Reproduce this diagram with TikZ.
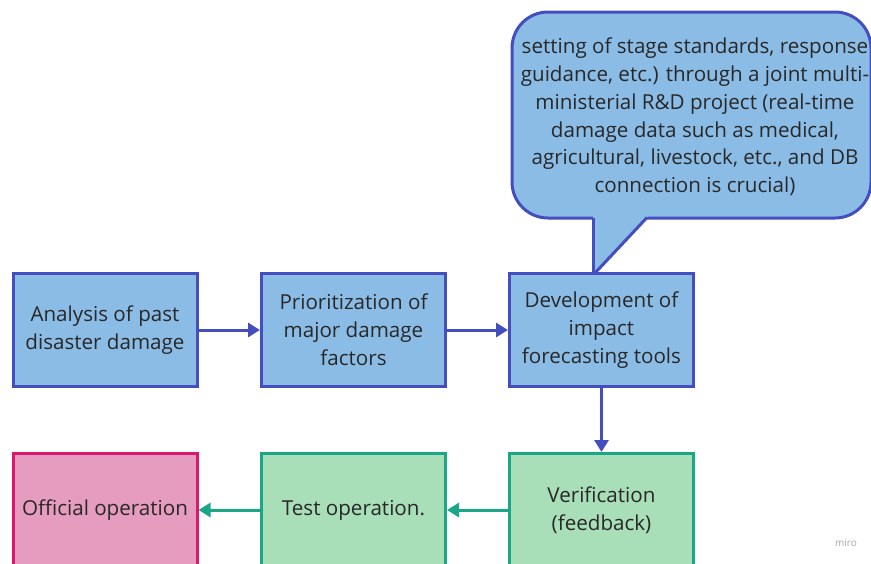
\documentclass[tikz,border=0pt]{standalone}
\usepackage{fontspec}
\setmainfont{Open Sans}
\usetikzlibrary{arrows.meta}
\definecolor{bfill}{RGB}{139,188,230}
\definecolor{bline}{RGB}{68,78,190}
\definecolor{gfill}{RGB}{168,222,184}
\definecolor{gline}{RGB}{27,166,134}
\definecolor{pfill}{RGB}{230,156,190}
\definecolor{pline}{RGB}{218,24,110}
\definecolor{txt}{RGB}{40,40,40}
\begin{document}
\begin{tikzpicture}[x=1pt,y=-1pt,
  box/.style={draw,line width=3pt,minimum width=184pt,minimum height=113pt,inner sep=0pt,align=center,text=txt,font=\fontsize{20.6}{28}\selectfont},
  bluebox/.style={box,fill=bfill,draw=bline},
  greenbox/.style={box,fill=gfill,draw=gline},
  pinkbox/.style={box,fill=pfill,draw=pline},
  barrow/.style={draw=bline,line width=3pt,-{Triangle[length=12pt,width=14pt]}},
  garrow/.style={draw=gline,line width=3pt,-{Triangle[length=12pt,width=14pt]}}]
\useasboundingbox (0,0) rectangle (871,563);
\clip (0,0) rectangle (871,563);
% callout
\draw[fill=bfill,draw=bline,line width=3pt,rounded corners=36pt] (512,12) rectangle (871,218);
\fill[bfill] (593,215) -- (649,215) -- (595,273) -- (593,273) -- cycle;
\draw[bline,line width=3pt,line join=round] (593,217.5) -- (593,273);
\draw[bline,line width=3pt,line join=round] (647,217.5) -- (595,273);
\node[align=center,text=txt,font=\fontsize{20.6}{27.8}\selectfont] (note) at (695,117)
 {setting of stage standards, response\\guidance, etc.) through a joint multi-\\ministerial R\&D project (real-time\\damage data such as medical,\\agricultural, livestock, etc., and DB\\connection is crucial)};
% top row
\node[bluebox] (a) at (105,330) {Analysis of past\\disaster damage};
\node[bluebox] (b) at (353.5,330) {Prioritization of\\major damage\\factors};
\node[bluebox] (c) at (601.5,330) {Development of\\impact\\forecasting tools};
% bottom row
\node[pinkbox] (f) at (105,510) {Official operation};
\node[greenbox] (e) at (353.5,510) {Test operation.};
\node[greenbox] (d) at (601.5,510) {Verification\\(feedback)};
% arrows
\draw[barrow] (a) -- (b);
\draw[barrow] (b) -- (c);
\draw[barrow] (c) -- (d);
\draw[garrow] (d) -- (e);
\draw[garrow] (e) -- (f);
\node[text=black!35,font=\fontsize{10}{12}\selectfont] (miro) at (846,543) {miro};
\end{tikzpicture}
\end{document}
